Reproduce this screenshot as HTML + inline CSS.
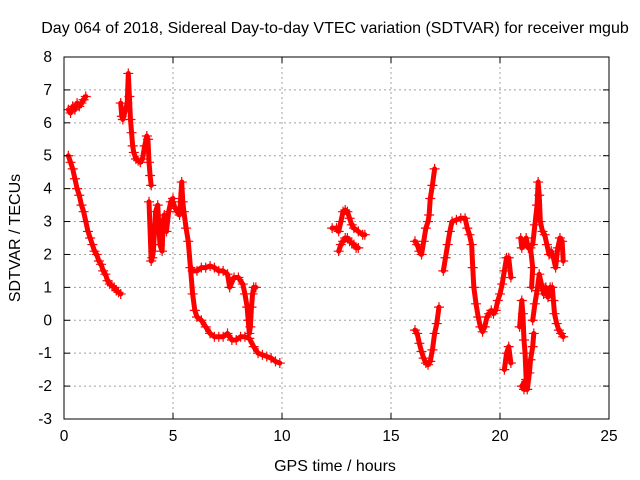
<!DOCTYPE html>
<html><head><meta charset="utf-8"><style>
body{margin:0;background:#fff;}
svg{display:block;font-family:"Liberation Sans",sans-serif;}
</style></head><body>
<svg id="chart" width="640" height="480" viewBox="0 0 640 480">
<text x="335" y="33" font-size="16" text-anchor="middle">Day 064 of 2018, Sidereal Day-to-day VTEC variation (SDTVAR) for receiver mgub</text>
<g id="grid"></g>
<g id="marks"></g>
<rect x="64" y="57" width="545" height="362" fill="none" stroke="#000" stroke-width="1"/>
<g id="ticks"></g>
<text x="335" y="471" font-size="16" text-anchor="middle">GPS time / hours</text>
<text x="0" y="0" font-size="16" text-anchor="middle" transform="translate(20,238) rotate(-90)">SDTVAR / TECUs</text>
</svg>
<script>
const xTicks=[0,5,10,15,20,25];
const yTicks=[-3,-2,-1,0,1,2,3,4,5,6,7,8];
const trackA=[[0.2,6.4],[0.3,6.3],[0.4,6.5],[0.5,6.4],[0.6,6.6],[0.7,6.5],[0.8,6.6],[0.9,6.7],[1.0,6.8]];
const trackB=[[0.2,5.0],[0.3,4.8],[0.4,4.6],[0.5,4.3],[0.6,4.0],[0.7,3.8],[0.8,3.5],[0.9,3.3],[1.0,3.0],[1.1,2.7],[1.2,2.5],[1.3,2.3],[1.4,2.1],[1.5,2.0],[1.6,1.8],[1.7,1.7],[1.8,1.5],[1.9,1.4],[2.0,1.2],[2.1,1.1],[2.2,1.05],[2.3,1.0],[2.4,0.9],[2.5,0.85],[2.6,0.8]];
const trackC=[[2.6,6.6],[2.65,6.2],[2.7,6.1],[2.9,6.6],[2.95,7.5],[3.0,6.8],[3.05,6.1],[3.1,5.7],[3.15,5.3],[3.2,5.1],[3.3,4.9],[3.4,4.85],[3.5,4.8],[3.6,4.9],[3.7,5.3],[3.8,5.6],[3.85,5.5],[3.9,4.8],[3.95,4.4],[4.0,4.1]];
const trackD=[[3.9,3.6],[4.0,1.8],[4.05,1.9],[4.1,2.1],[4.2,3.3],[4.3,3.5],[4.4,2.3],[4.5,2.1],[4.55,3.0],[4.6,3.2],[4.7,2.7],[4.8,3.3],[4.9,3.6],[5.0,3.7]];
const trackE=[[5.0,3.6],[5.1,3.4],[5.2,3.3],[5.3,3.2],[5.4,4.2],[5.45,3.6],[5.5,3.3],[5.6,2.8],[5.7,2.4],[5.8,1.6],[5.9,0.8],[6.0,0.3],[6.1,0.1],[6.3,0.0],[6.5,-0.2],[6.7,-0.4],[6.9,-0.5],[7.1,-0.5],[7.3,-0.5],[7.5,-0.4],[7.7,-0.6],[7.9,-0.6],[8.1,-0.5],[8.3,-0.5],[8.5,-0.55],[8.7,-0.8],[8.9,-1.0],[9.1,-1.05],[9.3,-1.1],[9.5,-1.15],[9.7,-1.25],[9.9,-1.3]];
const trackE2=[[5.9,1.5],[6.1,1.5],[6.3,1.6],[6.5,1.6],[6.7,1.65],[6.9,1.6],[7.1,1.5],[7.3,1.5],[7.5,1.4],[7.6,1.0],[7.8,1.3],[8.0,1.3],[8.2,1.1],[8.3,0.8],[8.4,0.4],[8.45,0.0],[8.5,-0.4],[8.55,-0.2],[8.6,0.4],[8.65,0.8],[8.7,1.0],[8.8,1.0]];
const trackF=[[12.3,2.8],[12.5,2.8],[12.6,2.7],[12.7,3.0],[12.8,3.3],[12.9,3.35],[13.0,3.3],[13.1,3.1],[13.2,2.9],[13.3,2.8],[13.5,2.7],[13.7,2.6],[13.8,2.6]];
const trackF2=[[12.6,2.1],[12.7,2.3],[12.8,2.4],[12.9,2.5],[13.0,2.5],[13.1,2.4],[13.2,2.35],[13.3,2.3],[13.4,2.2],[13.5,2.2]];
const trackG=[[16.1,2.4],[16.2,2.3],[16.3,2.1],[16.4,2.0],[16.5,2.4],[16.6,2.8],[16.7,3.0],[16.75,3.2],[16.8,3.7],[16.9,4.1],[17.0,4.6]];
const trackH=[[16.1,-0.3],[16.2,-0.4],[16.3,-0.7],[16.4,-0.95],[16.5,-1.15],[16.6,-1.3],[16.7,-1.35],[16.8,-1.25],[16.9,-0.9],[17.0,-0.4],[17.1,-0.1],[17.2,0.4]];
const trackI=[[17.4,1.5],[17.5,1.9],[17.6,2.3],[17.7,2.7],[17.8,3.0],[18.0,3.05],[18.2,3.1],[18.4,3.1],[18.5,2.8],[18.6,2.6],[18.7,2.3],[18.75,1.6],[18.8,1.0],[18.9,0.5],[19.0,0.1],[19.1,-0.2],[19.2,-0.35],[19.3,-0.2],[19.4,0.1],[19.5,0.2],[19.6,0.3],[19.7,0.2],[19.8,0.3],[19.9,0.6],[20.0,0.8],[20.1,1.1],[20.2,1.5],[20.3,1.9],[20.4,1.9],[20.5,1.3]];
const trackJ=[[20.2,-1.5],[20.3,-1.0],[20.4,-0.8],[20.5,-1.3]];
const trackK=[[20.9,-0.2],[21.0,0.6],[21.05,0.2],[21.1,-0.6],[21.15,-1.0],[21.2,-1.8],[21.0,-2.0],[21.1,-2.1],[21.25,-2.1],[21.35,-1.6],[21.4,-1.2],[21.5,-0.8],[21.55,-0.4]];
const trackK2=[[20.95,2.5],[21.0,2.2],[21.1,2.3],[21.2,2.5],[21.3,2.2],[21.4,2.2],[21.5,1.6],[21.45,1.0]];
const trackL=[[21.5,2.3],[21.6,2.9],[21.7,3.5],[21.75,4.2],[21.8,3.8],[21.85,3.0],[21.95,2.7],[22.05,2.6],[22.15,2.3],[22.25,2.0],[22.35,2.1],[22.45,1.9],[22.55,1.6],[22.65,2.2],[22.75,2.5],[22.85,2.4],[22.9,1.8]];
const trackM=[[21.5,0.0],[21.6,0.5],[21.7,0.9],[21.8,1.4],[21.9,1.1],[22.0,0.8],[22.1,1.0],[22.2,0.7],[22.3,1.0],[22.4,1.0],[22.45,0.6],[22.5,0.2],[22.6,-0.1],[22.7,-0.3],[22.8,-0.4],[22.9,-0.5]];
const tracks=[trackA,trackB,trackC,trackD,trackE,trackE2,trackF,trackF2,trackG,trackH,trackI,trackJ,trackK,trackK2,trackL,trackM];

const X0=64,X1=609,Y0=419,Y1=57;
const xs=v=>X0+(v-0)/(25-0)*(X1-X0);
const ys=v=>Y0-(v+3)/(8+3)*(Y0-Y1);
const NS="http://www.w3.org/2000/svg";
const grid=document.getElementById('grid'),ticks=document.getElementById('ticks'),marks=document.getElementById('marks');
function mk(tag,attrs,parent){const e=document.createElementNS(NS,tag);for(const k in attrs)e.setAttribute(k,attrs[k]);parent.appendChild(e);return e;}
xTicks.forEach(t=>{
  const x=xs(t);
  if(t>0&&t<25){const g=mk('line',{x1:x,x2:x,y1:Y1,y2:Y0,stroke:'#a0a0a0','stroke-dasharray':'2,3'},grid);
  
  }
  mk('line',{x1:x,x2:x,y1:Y0,y2:Y0-6,stroke:'#000'},ticks);
  mk('line',{x1:x,x2:x,y1:Y1,y2:Y1+6,stroke:'#000'},ticks);
  const l=mk('text',{x:x,y:Y0+22,'font-size':15.5,'text-anchor':'middle'},ticks);l.textContent=t;
  
  
});
yTicks.forEach(t=>{
  const y=ys(t);
  if(t>-3&&t<8){const g=mk('line',{x1:X0,x2:X1,y1:y,y2:y,stroke:'#a0a0a0','stroke-dasharray':'2,3'},grid);
  
  }
  mk('line',{x1:X0,x2:X0+6,y1:y,y2:y,stroke:'#000'},ticks);
  mk('line',{x1:X1,x2:X1-6,y1:y,y2:y,stroke:'#000'},ticks);
  const l=mk('text',{x:X0-12,y:y+5,'font-size':15.5,'text-anchor':'end'},ticks);l.textContent=t;
  
  
});
tracks.forEach((tr,i)=>{
  const pl=mk('polyline',{points:tr.map(p=>xs(p[0])+','+ys(p[1])).join(' '),fill:'none',stroke:'#ff0000','stroke-width':5,'stroke-linejoin':'round','stroke-linecap':'round'},marks);
  
  
  tr.forEach(p=>{
    const x=xs(p[0]),y=ys(p[1]);
    const m=mk('path',{d:`M${x-5},${y}H${x+5}M${x},${y-5}V${y+5}`,stroke:'#ff0000','stroke-width':1.2},marks);
    
    
  });
});
</script>
</body></html>
